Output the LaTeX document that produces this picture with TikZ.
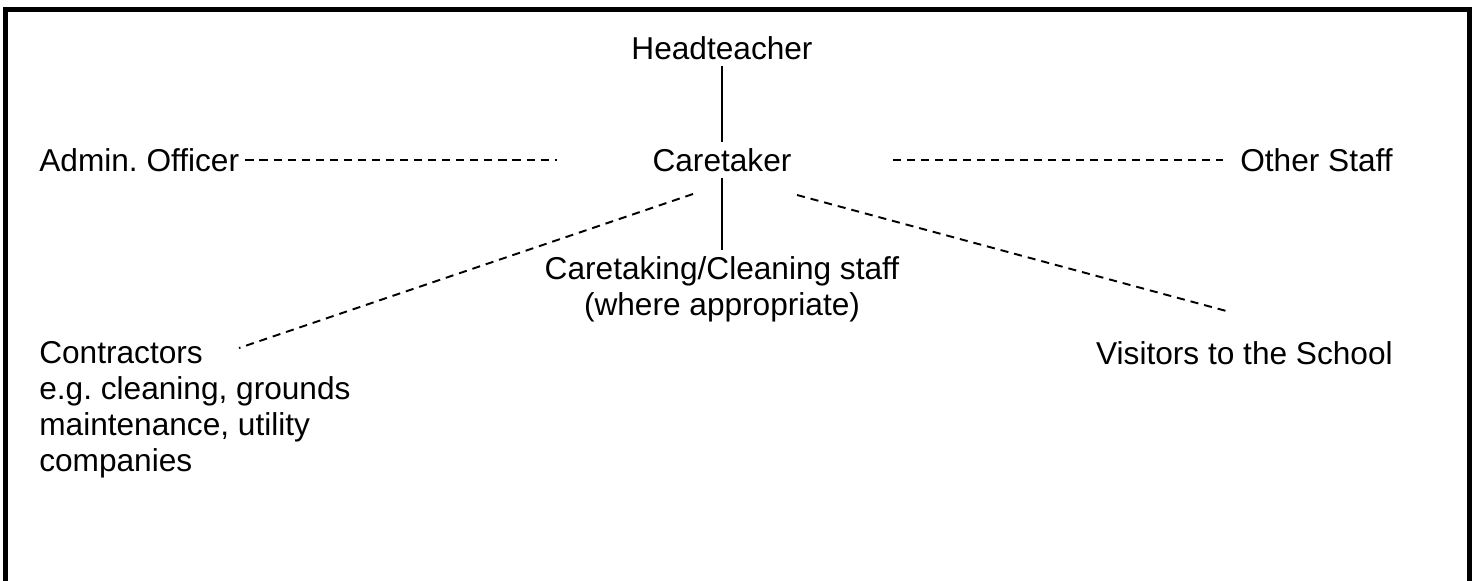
\documentclass[tikz,border=0pt]{standalone}
\usepackage{fontspec}
\setmainfont{Liberation Sans}
\usepackage{tikz}
\usetikzlibrary{positioning}
\frenchspacing

\begin{document}
\begin{tikzpicture}[
    x=0.02cm, y=-0.02cm,
    every node/.style={font=\fontsize{18}{20.6}\selectfont, inner sep=3.4pt},
    link/.style={line width=1.1pt},
    dashlink/.style={line width=1.1pt, dash pattern=on 4.6pt off 3.4pt},
    frame/.style={line width=2.3pt},
]
\useasboundingbox (0,0) rectangle (1474,581);
% open frame (no bottom edge)
\draw[frame] (5.5,581) -- (5.5,9.5) -- (1469.5,9.5) -- (1469.5,581);

% centre column
\node (head) at (722,48) {Headteacher};
\node (care) at (722,160) {Caretaker};
\node[align=center, anchor=north] (staff) at (722,250) {Caretaking/Cleaning staff\\(where appropriate)};

% side nodes
\node[anchor=west] (admin) at (33,160) {Admin. Officer};
\node[anchor=east] (other) at (1399,160) {Other Staff};
\node[anchor=north west, align=left] (contr) at (33,335) {Contractors\\e.g. cleaning, grounds\\maintenance, utility\\companies};
\node[anchor=east] (visit) at (1399,353) {Visitors to the School};

% free ends of the dashed lines
\coordinate (adminend) at (557,160);
\coordinate (otherstart) at (893,160);
\coordinate (otherend) at (1223,160);
\coordinate (contrstart) at (693,194);
\coordinate (contrend) at (239,348);
\coordinate (visitstart) at (797,195);
\coordinate (visitend) at (1230,312);

% solid lines
\draw[link] (head) -- (care);
\draw[link] (care) -- (staff);

% dashed lines
\draw[dashlink] (admin.east) -- (adminend);
\draw[dashlink] (otherstart) -- (otherend);
\draw[dashlink] (contrstart) -- (contrend);
\draw[dashlink] (visitstart) -- (visitend);
\end{tikzpicture}
\end{document}
